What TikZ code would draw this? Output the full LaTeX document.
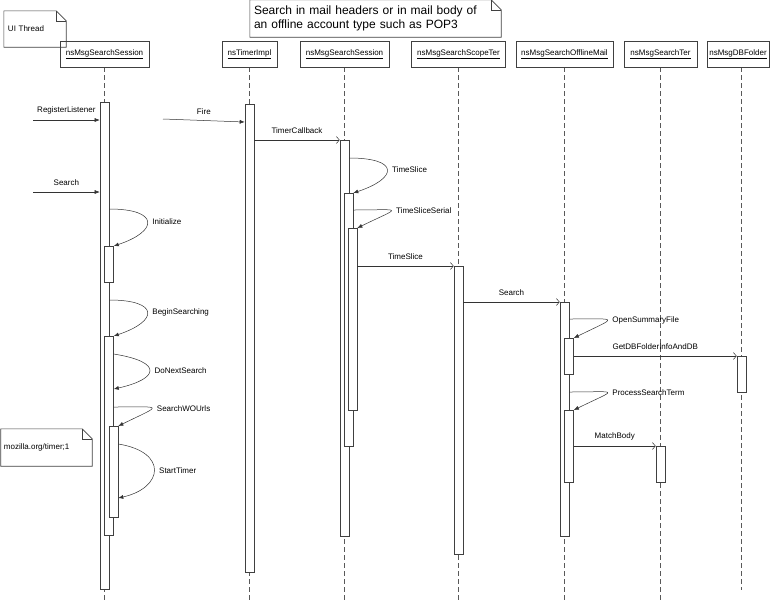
\documentclass[tikz,border=0pt]{standalone}
\usepackage{fontspec}
\setmainfont{Liberation Sans}
\usetikzlibrary{positioning}
\usetikzlibrary{arrows.meta,backgrounds}
\tikzset{
  objbox/.style={draw=black!75, line width=0.6pt, minimum height=26pt, inner sep=0pt, font=\fontsize{8}{9.6}\selectfont},
  lifeline/.style={draw=black!65, line width=0.6pt, dash pattern=on 5pt off 3pt},
  actbar/.style={draw=black!75, fill=white, line width=0.6pt, minimum width=9pt, inner sep=0pt, anchor=north},
  msg/.style={draw=black!80, line width=0.5pt, -{Straight Barb[length=3pt,width=7pt]}},
  call/.style={draw=black!80, line width=0.5pt, -{Latex[length=5pt,width=4pt]}},
  lbl/.style={font=\fontsize{8}{9.6}\selectfont, inner sep=1pt},
  notetext/.style={font=\fontsize{8}{9.6}\selectfont, align=left, inner ysep=0pt},
  noteline/.style={draw=black!75, line width=0.6pt}
}
\newcommand{\actbar}[4]{\node[actbar, minimum height={(#4-#3)*1pt}] (#1) at (#2,#3) {};}
\newcommand{\dogear}[2]{%
\draw[noteline] (#1.north west) -- ([xshift=-#2]#1.north east) -- ([yshift=-#2]#1.north east) -- (#1.south east) -- (#1.south west) -- cycle;
\draw[noteline] ([xshift=-#2]#1.north east) |- ([yshift=-#2]#1.north east);}
\begin{document}
\begin{tikzpicture}[x=1pt,y=-1pt]
\useasboundingbox (0,0) rectangle (776,600);
\coordinate (bot) at (0,600);
\coordinate (bot7) at (0,590);

% notes
\node[notetext, text width=54pt, minimum height=36pt, inner xsep=4pt] (uinote) at (35,29) {UI Thread};
\dogear{uinote}{10pt}
\node[notetext, text width=243pt, minimum height=37pt, inner xsep=4pt, font=\fontsize{12}{14}\selectfont] (mailnote) at (375.5,18.5) {Search in mail headers or in mail body of\\an offline account type such as POP3};
\dogear{mailnote}{10pt}
\node[notetext, text width=85pt, minimum height=37pt, inner xsep=3pt] (timernote) at (46.5,447.5) {mozilla.org/timer;1};
\dogear{timernote}{10pt}

% objects
\foreach \n/\x/\w/\t in {h1/104.5/89/nsMsgSearchSession, h2/249.5/55/nsTimerImpl,
  h3/344.5/89/nsMsgSearchSession, h4/458.5/94/nsMsgSearchScopeTer,
  h5/564.5/97/nsMsgSearchOfflineMail, h6/660.5/73/nsMsgSearchTer, h7/738/62/nsMsgDBFolder}{
\node[objbox, minimum width=\w pt] (\n) at (\x,54) {\underline{\t}};
}

% activations
\actbar{A0}{104.5}{102}{589}
\actbar{A1}{109}{246}{282}
\actbar{A2}{109}{336}{535}
\actbar{A3}{113.5}{426}{517}
\actbar{B0}{249.5}{104}{572}
\actbar{C0}{344.5}{140}{536}
\actbar{C1}{348.5}{193}{446}
\actbar{C2}{352.5}{228}{410}
\actbar{D0}{458.5}{266}{554}
\actbar{E0}{564.5}{302}{536}
\actbar{E1}{569}{338}{374}
\actbar{E2}{569}{410}{482}
\actbar{F0}{660.5}{446}{482}
\actbar{G0}{741.5}{356}{392}

\begin{scope}[on background layer]
\foreach \b/\h in {A0/h1,B0/h2,C0/h3,D0/h4,E0/h5,F0/h6}{
\draw[lifeline] (\b |- \h.south) -- (\b |- bot);
}
\draw[lifeline] (G0 |- h7.south) -- (G0 |- bot7);
\end{scope}

% incoming
\coordinate (rl) at (33,120);
\coordinate (se) at (33,192);
\coordinate (fi) at (163,119);
\draw[call] (rl) -- ([yshift=-18pt]A0.north west) node[lbl, midway, above=5pt] {RegisterListener};
\draw[call] (se) -- ([yshift=-90pt]A0.north west) node[lbl, midway, above=5pt] {Search};
\draw[call] (fi) -- ([yshift=-18pt]B0.north west) node[lbl, midway, above=5pt] {Fire};

% messages
\draw[msg] ([yshift=-36pt]B0.north east) -- (C0.north west) node[lbl, midway, above=5pt] {TimerCallback};
\draw[msg] ([yshift=-38pt]C2.north east) -- (D0.north west) node[lbl, midway, above=5pt] {TimeSlice};
\draw[msg] ([yshift=-36pt]D0.north east) -- (E0.north west) node[lbl, midway, above=5pt] {Search};
\draw[msg] ([yshift=-18pt]E1.north east) -- (G0.north west) node[lbl, midway, above=5pt] {GetDBFolderInfoAndDB};
\draw[msg] ([yshift=-36pt]E2.north east) -- (F0.north west) node[lbl, midway, above=5pt] {MatchBody};

% self calls
\draw[call] ([yshift=-107pt]A0.north east) .. controls +(50,0) and +(45,-15) .. (A1.north east) node[lbl, pos=0.5, anchor=west, xshift=4pt] {Initialize};
\draw[call] ([yshift=-198pt]A0.north east) .. controls +(50,0) and +(45,-15) .. (A2.north east) node[lbl, pos=0.5, anchor=west, xshift=4pt] {BeginSearching};
\draw[call] ([yshift=-18pt]A2.north east) .. controls +(50,8) and +(45,-10) .. ([yshift=-53pt]A2.north east) node[lbl, pos=0.5, anchor=west, xshift=4pt] {DoNextSearch};
\draw[call] ([yshift=-71pt]A2.north east) .. controls +(50,0) and +(45,-22) .. (A3.north east) node[lbl, pos=0.5, anchor=west, xshift=4pt] {SearchWOUrls};
\draw[call] ([yshift=-18pt]A3.north east) .. controls +(50,8) and +(45,-10) .. ([yshift=-72pt]A3.north east) node[lbl, pos=0.5, anchor=west, xshift=4pt] {StartTimer};
\draw[call] ([yshift=-18pt]C0.north east) .. controls +(50,0) and +(45,-15) .. (C1.north east) node[lbl, pos=0.5, anchor=west, xshift=4pt] {TimeSlice};
\draw[call] ([yshift=-17pt]C1.north east) .. controls +(50,0) and +(45,-22) .. (C2.north east) node[lbl, pos=0.5, anchor=west, xshift=4pt] {TimeSliceSerial};
\draw[call] ([yshift=-17pt]E0.north east) .. controls +(50,0) and +(45,-22) .. (E1.north east) node[lbl, pos=0.5, anchor=west, xshift=4pt] {OpenSummaryFile};
\draw[call] ([yshift=-90pt]E0.north east) .. controls +(50,0) and +(45,-22) .. (E2.north east) node[lbl, pos=0.5, anchor=west, xshift=4pt] {ProcessSearchTerm};
\end{tikzpicture}
\end{document}
